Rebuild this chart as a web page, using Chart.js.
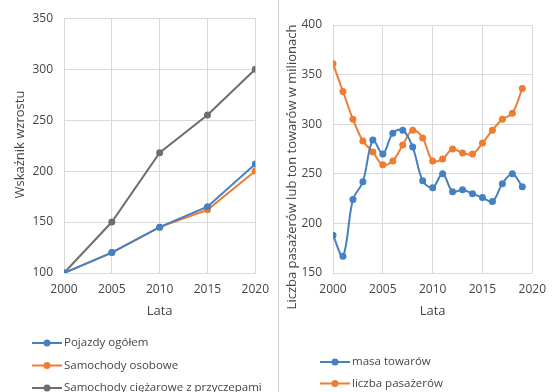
<!DOCTYPE html>
<html>
<head>
<meta charset="utf-8">
<script src="https://cdn.jsdelivr.net/npm/chart.js@4/dist/chart.umd.min.js"></script>
<style>
  html, body { margin: 0; padding: 0; background: #ffffff; }
  #wrap { position: relative; width: 555px; height: 392px; overflow: hidden; }
  #left { position: absolute; left: 0; top: 0; width: 278px; height: 392px; }
  #right { position: absolute; left: 280px; top: 0; width: 275px; height: 392px; }
  #divider { position: absolute; left: 278px; top: 0; width: 1px; height: 392px; background: #cfcfcf; }
</style>
</head>
<body>
<div id="wrap">
  <div id="left"><canvas id="c1" width="278" height="392"></canvas></div>
  <div id="divider"></div>
  <div id="right"><canvas id="c2" width="275" height="392"></canvas></div>
</div>
<script>
// Wskaźniki wzrostu (2000 = 100)
const lata5 = [2000, 2005, 2010, 2015, 2020];
const pojazdyOgolem = [100, 120, 145, 165, 207];
const samochodyOsobowe = [100, 120, 145, 162, 200];
const samochodyCiezarowe = [100, 150, 218, 255, 300];

// Przewozy roczne (mln)
const lata = [2000, 2001, 2002, 2003, 2004, 2005, 2006, 2007, 2008, 2009,
              2010, 2011, 2012, 2013, 2014, 2015, 2016, 2017, 2018, 2019];
const masaTowarow = [188, 167, 224, 242, 284, 270, 291, 294, 277, 243,
                     236, 250, 232, 234, 230, 226, 222, 240, 250, 237];
const liczbaPasazerow = [361, 333, 305, 283, 272, 259, 263, 279, 294, 286,
                         263, 265, 275, 271, 270, 281, 294, 305, 311, 336];

const xTicks = [2000, 2005, 2010, 2015, 2020];

const BLUE = '#4580c5';
const ORANGE = '#ee7d31';
const GREY = '#6e6e6e';
const GRID = '#d9d9d9';
const TXT = '#454545';
const FONT = 'Open Sans';

const pts = (xs, ys) => xs.map((x, i) => ({ x: x, y: ys[i] }));

// Legend drawn as a vertical list of line+marker samples under the plot
const stackedLegend = {
  id: 'stackedLegend',
  afterDraw(chart, args, opts) {
    const ctx = chart.ctx;
    ctx.save();
    ctx.font = '11.5px "' + FONT + '"';
    ctx.textBaseline = 'middle';
    ctx.textAlign = 'left';
    chart.data.datasets.forEach((ds, i) => {
      const y = opts.y + i * opts.gap;
      const x0 = opts.x, x1 = opts.x + opts.len;
      ctx.strokeStyle = ds.borderColor;
      ctx.lineWidth = 2;
      ctx.beginPath();
      ctx.moveTo(x0, y);
      ctx.lineTo(x1, y);
      ctx.stroke();
      ctx.fillStyle = ds.borderColor;
      ctx.beginPath();
      ctx.arc((x0 + x1) / 2, y, 3.5, 0, Math.PI * 2);
      ctx.fill();
      ctx.fillStyle = TXT;
      ctx.fillText(ds.label, x1 + 2, y);
    });
    ctx.restore();
  }
};

// Rotated value-axis caption, centred on the plot height plus an offset
const sideTitle = {
  id: 'sideTitle',
  afterDraw(chart, args, opts) {
    const ctx = chart.ctx;
    const area = chart.chartArea;
    ctx.save();
    ctx.font = '13px "' + FONT + '"';
    ctx.fillStyle = TXT;
    ctx.textAlign = 'center';
    ctx.textBaseline = 'middle';
    ctx.translate(opts.x, (area.top + area.bottom) / 2 + opts.dy);
    ctx.rotate(-Math.PI / 2);
    ctx.fillText(opts.text, 0, 0);
    ctx.restore();
  }
};

function lineDataset(label, data, color, tension) {
  return {
    label: label,
    data: data,
    borderColor: color,
    backgroundColor: color,
    borderWidth: 2,
    pointRadius: 3.5,
    pointHoverRadius: 3.5,
    pointBorderWidth: 0,
    tension: tension,
    fill: false
  };
}

function makeOptions(cfg) {
  return {
    responsive: false,
    animation: false,
    events: [],
    layout: { padding: { left: 0, top: cfg.top, right: cfg.right, bottom: cfg.bottom } },
    plugins: {
      legend: { display: false },
      tooltip: { enabled: false },
      stackedLegend: cfg.legend,
      sideTitle: cfg.yTitle
    },
    scales: {
      x: {
        type: 'linear',
        min: 2000, max: 2020,
        afterBuildTicks: (s) => { s.ticks = xTicks.map(v => ({ value: v })); },
        afterFit: (s) => { s.height = 50; },
        grid: { color: GRID, lineWidth: 1, drawTicks: false },
        border: { color: GRID },
        ticks: { color: TXT, font: { family: FONT, size: 12 }, padding: 9, maxRotation: 0,
                 callback: (v) => String(v) },
        title: { display: true, text: 'Lata', color: TXT, font: { family: FONT, size: 13 },
                 padding: { top: 0, bottom: 4 } }
      },
      y: {
        min: cfg.ymin, max: cfg.ymax,
        afterFit: (s) => { s.width = cfg.yWidth; },
        grid: { color: GRID, lineWidth: 1, drawTicks: false },
        border: { color: GRID },
        ticks: { color: TXT, font: { family: FONT, size: 12 }, padding: 11, stepSize: 50 }
      }
    }
  };
}

new Chart(document.getElementById('c1'), {
  type: 'line',
  data: {
    datasets: [
      lineDataset('Pojazdy ogółem', pts(lata5, pojazdyOgolem), BLUE, 0),
      lineDataset('Samochody osobowe', pts(lata5, samochodyOsobowe), ORANGE, 0),
      lineDataset('Samochody ciężarowe z przyczepami', pts(lata5, samochodyCiezarowe), GREY, 0)
    ]
  },
  options: makeOptions({
    top: 16, right: 20, bottom: 69, yWidth: 64, ymin: 100, ymax: 350,
    yTitle: { text: 'Wskaźnik wzrostu', x: 20, dy: -1 },
    legend: { x: 32, y: 343, gap: 22.5, len: 30 }
  }),
  plugins: [stackedLegend, sideTitle]
});

new Chart(document.getElementById('c2'), {
  type: 'line',
  data: {
    datasets: [
      lineDataset('masa towarów', pts(lata, masaTowarow), BLUE, 0.35),
      lineDataset('liczba pasażerów', pts(lata, liczbaPasazerow), ORANGE, 0.35)
    ]
  },
  options: makeOptions({
    top: 25, right: 16, bottom: 69, yWidth: 53, ymin: 150, ymax: 400,
    yTitle: { text: 'Liczba pasażerów lub ton towarów w milionach', x: 12.5, dy: 18 },
    legend: { x: 40, y: 362, gap: 21.5, len: 30 }
  }),
  plugins: [stackedLegend, sideTitle]
});
</script>
</body>
</html>
